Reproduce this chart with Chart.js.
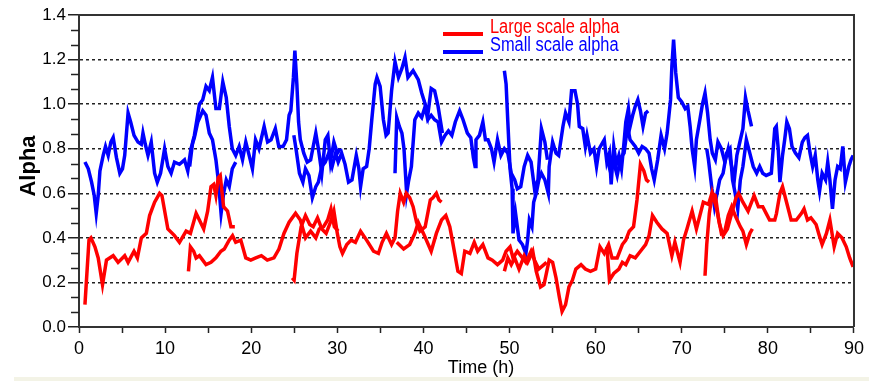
<!DOCTYPE html>
<html>
<head>
<meta charset="utf-8">
<script src="https://cdn.jsdelivr.net/npm/chart.js@4.4.0/dist/chart.umd.min.js"></script>
<style>
html, body { margin: 0; padding: 0; background: #fff; }
#wrap { width: 869px; height: 381px; position: relative; }
</style>
</head>
<body>
<div id="wrap"><canvas id="mycanvas"></canvas></div>
<script>
// [time (h), alpha] -- each series is made of overlapping ~17.5 h windows
var red1 = [[0.69,0.10],[1.16,0.39],[1.39,0.40],[1.85,0.36],[2.23,0.31],[2.73,0.19],[3.19,0.30],[3.97,0.32],[4.54,0.29],[5.31,0.32],[5.7,0.29],[6.39,0.34],[6.78,0.31],[7.24,0.40],[7.82,0.42],[8.2,0.50],[8.78,0.56],[9.36,0.60],[9.63,0.59],[10.32,0.44],[11.09,0.41],[11.67,0.38],[12.44,0.43],[12.94,0.42],[13.6,0.51],[13.98,0.48],[14.48,0.44],[14.94,0.52],[15.33,0.63],[15.64,0.64],[15.9,0.59],[16.17,0.67],[16.4,0.68],[16.79,0.54],[17.25,0.52],[17.64,0.45],[18.1,0.45]];
var red2 = [[12.71,0.25],[12.94,0.36],[13.32,0.34],[13.6,0.31],[13.98,0.32],[14.75,0.28],[15.33,0.29],[15.9,0.31],[16.48,0.34],[16.87,0.35],[17.44,0.39],[17.83,0.41],[18.2,0.38],[18.79,0.39],[19.37,0.31],[19.95,0.30],[20.53,0.31],[21.18,0.32],[21.87,0.30],[22.64,0.31],[23.22,0.35],[23.8,0.42],[24.4,0.47],[25.15,0.51],[25.7,0.48],[26.3,0.40],[26.9,0.43],[27.5,0.40],[27.9,0.44],[28.4,0.45],[28.88,0.48],[29.26,0.53],[29.65,0.45],[30.1,0.43]];
var red3 = [[24.76,0.22],[24.98,0.21],[25.3,0.33],[25.8,0.45],[26.3,0.50],[26.8,0.46],[27.2,0.45],[27.7,0.49],[28.2,0.44],[28.7,0.42],[29.2,0.47],[29.6,0.52],[30.0,0.42],[30.3,0.36],[30.6,0.33],[31.1,0.37],[31.6,0.39],[32.1,0.38],[32.7,0.43],[33.4,0.39],[34.2,0.34],[34.77,0.33],[35.2,0.38],[35.7,0.42],[36.3,0.37],[36.7,0.40],[37.0,0.52],[37.3,0.60],[37.7,0.56],[38.0,0.60],[38.4,0.58],[38.8,0.54],[39.2,0.47],[39.6,0.43],[40.2,0.45],[40.8,0.57],[41.1,0.58],[41.5,0.60],[41.8,0.57],[42.1,0.56]];
var red4 = [[36.9,0.38],[37.7,0.35],[38.4,0.37],[39.0,0.42],[39.4,0.47],[40.0,0.42],[40.9,0.34],[41.5,0.42],[42.1,0.48],[42.6,0.50],[43.06,0.45],[43.4,0.38],[44.0,0.25],[44.4,0.24],[44.8,0.34],[45.4,0.33],[45.9,0.38],[46.3,0.34],[46.9,0.37],[47.5,0.31],[48.0,0.30],[48.6,0.28],[49.2,0.30],[49.6,0.34],[50.06,0.36],[50.4,0.31],[50.9,0.34],[51.5,0.31],[51.9,0.29],[52.5,0.34],[52.9,0.30],[53.4,0.26],[54.0,0.28],[54.3,0.29]];
var red5 = [[49.4,0.25],[49.8,0.31],[50.2,0.28],[50.6,0.31],[51.1,0.26],[51.7,0.32],[52.1,0.29],[52.7,0.34],[53.1,0.25],[53.6,0.18],[54.0,0.19],[54.6,0.30],[55.0,0.29],[55.4,0.22],[55.8,0.13],[56.1,0.07],[56.5,0.10],[56.9,0.18],[57.3,0.21],[57.7,0.26],[58.3,0.28],[58.8,0.26],[59.4,0.25],[60.0,0.26],[60.5,0.36],[61.0,0.33],[61.5,0.37],[61.9,0.31],[62.5,0.31],[63.1,0.37],[63.5,0.39],[63.9,0.43],[64.4,0.45],[64.8,0.57],[65.2,0.73],[65.6,0.70],[65.9,0.66],[66.2,0.65]];
var red6 = [[61.3,0.36],[61.6,0.21],[62.1,0.24],[62.7,0.26],[63.1,0.29],[63.5,0.28],[64.0,0.32],[64.6,0.31],[65.2,0.34],[65.8,0.37],[66.2,0.41],[66.6,0.50],[67.1,0.47],[67.7,0.44],[68.3,0.42],[68.85,0.32],[69.2,0.38],[69.8,0.29],[70.2,0.39],[70.6,0.44],[71.2,0.52],[71.7,0.44],[72.1,0.50],[72.5,0.56],[73.1,0.55],[73.5,0.60],[73.9,0.59],[74.3,0.48],[74.6,0.42],[75.0,0.43],[75.4,0.50],[75.8,0.54],[76.2,0.50],[76.8,0.45],[77.1,0.43],[77.5,0.37],[77.9,0.42],[78.2,0.44]];
var red7 = [[72.7,0.23],[72.9,0.37],[73.2,0.51],[73.55,0.60],[74.05,0.53],[74.4,0.46],[74.8,0.41],[75.3,0.44],[75.8,0.51],[76.3,0.58],[76.6,0.60],[77.1,0.56],[77.7,0.52],[78.4,0.59],[78.9,0.54],[79.4,0.54],[79.8,0.51],[80.2,0.48],[80.8,0.48],[81.0,0.51],[81.4,0.60],[81.7,0.63],[82.1,0.57],[82.7,0.48],[83.3,0.48],[83.9,0.51],[84.2,0.53],[84.6,0.48],[85.0,0.49],[85.6,0.46],[85.9,0.42],[86.3,0.37],[86.8,0.42],[87.2,0.48],[87.7,0.36],[88.1,0.42],[88.6,0.40],[89.1,0.36],[89.5,0.31],[89.9,0.27]];

var blue1 = [[0.69,0.74],[1.08,0.71],[1.46,0.65],[1.77,0.59],[2.0,0.51],[2.23,0.59],[2.43,0.70],[2.81,0.77],[3.08,0.81],[3.39,0.77],[3.7,0.83],[3.97,0.85],[4.35,0.76],[4.74,0.69],[5.05,0.71],[5.31,0.77],[5.7,0.96],[6.0,0.92],[6.39,0.86],[6.85,0.83],[7.24,0.82],[7.43,0.87],[7.7,0.82],[8.01,0.77],[8.39,0.83],[8.78,0.69],[9.09,0.65],[9.47,0.69],[9.94,0.80],[10.32,0.72],[10.7,0.69],[11.09,0.74],[11.67,0.73],[12.25,0.75],[12.63,0.70],[13.0,0.80],[13.4,0.85],[13.8,0.92],[14.37,0.97],[14.75,0.95],[15.13,0.87],[15.5,0.84],[15.9,0.75],[16.2,0.65],[16.5,0.51],[16.8,0.60],[17.1,0.66],[17.45,0.63],[17.8,0.71],[18.2,0.74]];
var blue2 = [[12.85,0.72],[13.2,0.83],[13.4,0.86],[13.98,1.00],[14.37,1.02],[14.75,1.08],[15.13,1.06],[15.5,1.12],[15.9,0.98],[16.3,0.98],[16.7,1.10],[17.1,1.03],[17.45,0.90],[17.8,0.80],[18.2,0.77],[18.6,0.81],[18.99,0.75],[19.37,0.83],[19.76,0.77],[20.14,0.71],[20.5,0.84],[20.9,0.80],[21.5,0.90],[21.9,0.83],[22.3,0.84],[22.8,0.89],[23.2,0.81],[23.7,0.81],[24.1,0.84],[24.4,0.95],[24.6,0.97],[24.9,1.12],[25.07,1.24],[25.3,1.09],[25.5,0.92],[25.7,0.84],[26.1,0.78],[26.5,0.74],[26.9,0.75],[27.3,0.83],[27.5,0.87],[27.8,0.80],[28.2,0.69],[28.6,0.84],[28.9,0.86],[29.2,0.74],[29.6,0.83],[30.0,0.78],[30.35,0.80]];
var blue3 = [[24.95,0.86],[25.2,0.80],[25.6,0.69],[26.0,0.65],[26.3,0.71],[26.7,0.68],[27.1,0.58],[27.5,0.63],[27.8,0.65],[28.2,0.72],[28.6,0.74],[29.0,0.78],[29.4,0.72],[29.8,0.78],[30.1,0.74],[30.5,0.78],[30.9,0.73],[31.3,0.65],[31.7,0.66],[32.2,0.77],[32.5,0.71],[32.7,0.63],[33.0,0.71],[33.4,0.72],[33.7,0.80],[34.0,0.93],[34.4,1.09],[34.6,1.12],[34.97,1.08],[35.35,0.93],[35.66,0.86],[35.9,0.87],[36.3,1.06],[36.7,1.19],[37.1,1.12],[37.5,1.16],[37.86,1.21],[38.2,1.12],[38.8,1.15],[39.4,1.11],[39.8,1.05],[40.2,1.00],[40.5,0.95],[40.9,1.07],[41.3,1.06],[41.7,0.99],[42.2,0.87]];
var blue4 = [[36.7,0.69],[36.9,0.94],[37.2,0.90],[37.5,0.87],[37.74,0.80],[38.05,0.60],[38.25,0.65],[38.6,0.72],[39.0,0.93],[39.4,0.96],[39.8,0.94],[40.2,0.99],[40.5,0.93],[40.9,0.95],[41.3,0.93],[41.7,0.92],[42.1,0.83],[42.5,0.86],[42.9,0.88],[43.3,0.86],[43.7,0.92],[44.2,0.97],[44.6,0.93],[45.1,0.87],[45.5,0.85],[45.8,0.76],[46.0,0.72],[46.1,0.84],[46.5,0.86],[46.9,0.92],[47.2,0.84],[47.5,0.84],[47.9,0.80],[48.2,0.74],[48.6,0.84],[49.0,0.77],[49.4,0.80],[49.8,0.78],[50.2,0.69],[50.6,0.66],[50.9,0.62],[51.3,0.63],[51.7,0.72],[52.1,0.77],[52.5,0.74],[52.9,0.62],[53.3,0.66],[53.7,0.89],[54.1,0.83],[54.4,0.75]];
var blue5 = [[49.4,1.15],[49.6,1.09],[49.8,0.92],[50.06,0.71],[50.3,0.62],[50.4,0.42],[50.7,0.51],[50.9,0.45],[51.1,0.39],[51.5,0.37],[51.9,0.33],[52.1,0.39],[52.3,0.48],[52.6,0.45],[52.8,0.56],[53.1,0.60],[53.4,0.66],[53.7,0.69],[54.1,0.66],[54.5,0.60],[54.6,0.72],[55.0,0.83],[55.4,0.78],[55.7,0.77],[56.2,0.90],[56.5,0.96],[56.9,0.92],[57.2,1.06],[57.6,1.06],[57.9,1.00],[58.1,0.90],[58.5,0.89],[58.8,0.81],[59.0,0.86],[59.4,0.78],[59.8,0.80],[60.1,0.72],[60.4,0.80],[61.0,0.84],[61.3,0.74],[61.6,0.78],[61.8,0.64],[62.1,0.81],[62.4,0.73],[62.7,0.77],[63.0,0.71],[63.3,0.83],[63.5,0.92],[63.8,0.98],[64.0,0.90],[64.3,0.95],[64.6,0.99],[64.9,1.02],[65.2,0.97],[65.5,0.90],[65.8,0.96],[66.1,0.97]];
var blue6 = [[61.3,0.76],[61.7,0.70],[62.1,0.74],[62.5,0.68],[62.9,0.76],[63.3,0.78],[63.7,0.90],[64.0,0.84],[64.6,0.81],[65.0,0.78],[65.4,0.81],[65.8,0.80],[66.2,0.78],[66.5,0.71],[66.8,0.66],[67.2,0.75],[67.6,0.86],[68.0,0.80],[68.3,0.87],[68.7,1.02],[68.85,1.17],[69.05,1.29],[69.3,1.14],[69.6,1.03],[70.0,1.01],[70.4,0.98],[70.7,0.99],[70.97,0.90],[71.2,0.80],[71.5,0.72],[71.7,0.84],[72.1,0.93],[72.4,1.00],[72.7,1.05],[73.0,0.96],[73.3,0.84],[73.55,0.78],[73.9,0.75],[74.2,0.83],[74.6,0.80],[75.0,0.74],[75.4,0.80],[75.8,0.72],[76.1,0.66],[76.4,0.77],[76.8,0.84],[77.1,0.89],[77.4,1.03],[77.7,0.97],[78.1,0.90]];
var blue7 = [[72.9,0.80],[73.1,0.75],[73.5,0.62],[73.8,0.54],[74.05,0.59],[74.4,0.66],[74.8,0.69],[75.2,0.78],[75.6,0.80],[75.9,0.66],[76.2,0.60],[76.5,0.53],[76.8,0.66],[77.1,0.72],[77.5,0.84],[77.9,0.78],[78.3,0.72],[78.7,0.69],[79.05,0.72],[79.4,0.69],[79.8,0.68],[80.4,0.69],[80.8,0.89],[80.98,0.90],[81.2,0.80],[81.4,0.65],[81.7,0.77],[81.95,0.84],[82.2,0.92],[82.5,0.89],[82.8,0.81],[83.2,0.78],[83.6,0.76],[84.0,0.83],[84.3,0.85],[84.6,0.86],[84.9,0.78],[85.2,0.72],[85.5,0.77],[85.8,0.66],[86.0,0.61],[86.3,0.69],[86.7,0.66],[86.95,0.74],[87.2,0.66],[87.5,0.53],[87.8,0.66],[88.1,0.72],[88.4,0.71],[88.7,0.81],[89.0,0.65],[89.4,0.72],[89.65,0.75],[89.9,0.77]];

var redSegments = [red1, red2, red3, red4, red5, red6, red7];
var blueSegments = [blue1, blue2, blue3, blue4, blue5, blue6, blue7];
var seriesNames = ['Large scale alpha', 'Small scale alpha'];
var seriesColors = ['#ff0000', '#0000ff'];

var xTickValues = [0,5,10,15,20,25,30,35,40,45,50,55,60,65,70,75,80,85,90];
var xTickLabels = ['0','','10','','20','','30','','40','','50','','60','','70','','80','','90'];
var yTickValues = [0,0.2,0.4,0.6,0.8,1.0,1.2,1.4];
var yTickLabels = ['0.0','0.2','0.4','0.6','0.8','1.0','1.2','1.4'];

Chart.defaults.font.family = "'Liberation Sans', Arial, sans-serif";
Chart.defaults.font.size = 17;
Chart.defaults.color = '#000';

function toPoints(seg) {
    return seg.map(function(p) { return {x: p[0], y: p[1]}; });
}

var datasets = [];
redSegments.forEach(function(seg) {
    datasets.push({ data: toPoints(seg), borderColor: seriesColors[0], borderWidth: 3.5, pointRadius: 0, tension: 0, fill: false });
});
blueSegments.forEach(function(seg) {
    datasets.push({ data: toPoints(seg), borderColor: seriesColors[1], borderWidth: 3.5, pointRadius: 0, tension: 0, fill: false });
});

// frame, minor ticks, legend and axis titles
var extras = {
    id: 'extras',
    afterDraw: function(chart) {
        var ctx = chart.ctx, a = chart.chartArea, y = chart.scales.y;
        ctx.save();
        ctx.strokeStyle = '#333';
        ctx.lineWidth = 2;
        ctx.beginPath();
        ctx.moveTo(a.left, a.top); ctx.lineTo(a.right, a.top); ctx.lineTo(a.right, a.bottom);
        ctx.stroke();

        ctx.lineWidth = 1.5;
        ctx.strokeStyle = '#222';
        for (var k = 0; k <= 21; k++) {
            if (k % 3 === 0) continue;
            var py = Math.round(y.getPixelForValue(k * 0.2 / 3)) + 0.5;
            ctx.beginPath(); ctx.moveTo(a.left - 8, py); ctx.lineTo(a.left, py); ctx.stroke();
        }

        // legend
        var ly = [34, 52], ty = [33, 51];
        for (var i = 0; i < 2; i++) {
            ctx.strokeStyle = seriesColors[i];
            ctx.lineWidth = 4;
            ctx.beginPath(); ctx.moveTo(443, ly[i]); ctx.lineTo(483, ly[i]); ctx.stroke();
            ctx.save();
            ctx.translate(490, ty[i]);
            ctx.scale(0.82, 1);
            ctx.fillStyle = seriesColors[i];
            ctx.font = "20px 'Liberation Sans', Arial, sans-serif";
            ctx.textBaseline = 'alphabetic';
            ctx.fillText(seriesNames[i], 0, 0);
            ctx.restore();
        }

        // axis titles
        ctx.fillStyle = '#000';
        ctx.textAlign = 'center';
        ctx.textBaseline = 'middle';
        ctx.font = "18px 'Liberation Sans', Arial, sans-serif";
        ctx.fillText('Time (h)', 481, 368);
        ctx.save();
        ctx.translate(29, 166);
        ctx.rotate(-Math.PI / 2);
        ctx.font = "bold 22px 'Liberation Sans', Arial, sans-serif";
        ctx.fillText('Alpha', 0, 0);
        ctx.restore();

        ctx.fillStyle = '#f3f3e6';
        ctx.fillRect(14, 377, 855, 4);
        ctx.restore();
    }
};

var ctx = document.getElementById('mycanvas');
var chart = new Chart(ctx, {
    type: 'line',
    data: { datasets: datasets },
    options: {
        responsive: true,
        maintainAspectRatio: false,
        animation: false,
        layout: { padding: { top: 15, right: 11, left: 0, bottom: 0 } },
        plugins: { legend: { display: false }, tooltip: { enabled: false } },
        scales: {
            x: {
                type: 'linear', min: 0, max: 90,
                afterBuildTicks: function(s) { s.ticks = xTickValues.map(function(v) { return {value: v}; }); },
                afterFit: function(s) { s.height = 54; },
                ticks: { autoSkip: false, maxRotation: 0, padding: 5, font: { size: 18 }, callback: function(v, i) { return xTickLabels[i]; } },
                grid: { drawOnChartArea: false, drawTicks: true, tickLength: 6, tickColor: '#222', tickWidth: 1.5 },
                border: { color: '#333', width: 2 }
            },
            y: {
                min: 0, max: 1.4,
                afterBuildTicks: function(s) { s.ticks = yTickValues.map(function(v) { return {value: v}; }); },
                afterFit: function(s) { s.width = 79; },
                ticks: { padding: 2, callback: function(v, i) { return yTickLabels[i]; } },
                grid: {
                    drawTicks: true, tickLength: 11, tickColor: '#222', tickWidth: 1.5, lineWidth: 1.5,
                    color: function(c) {
                        if (c.tick && (c.tick.value === 0 || c.tick.value === 1.4)) return 'rgba(0,0,0,0)';
                        return '#222';
                    }
                },
                border: { color: '#333', width: 2, dash: [3, 3] }
            }
        }
    },
    plugins: [extras]
});
</script>
</body>
</html>
